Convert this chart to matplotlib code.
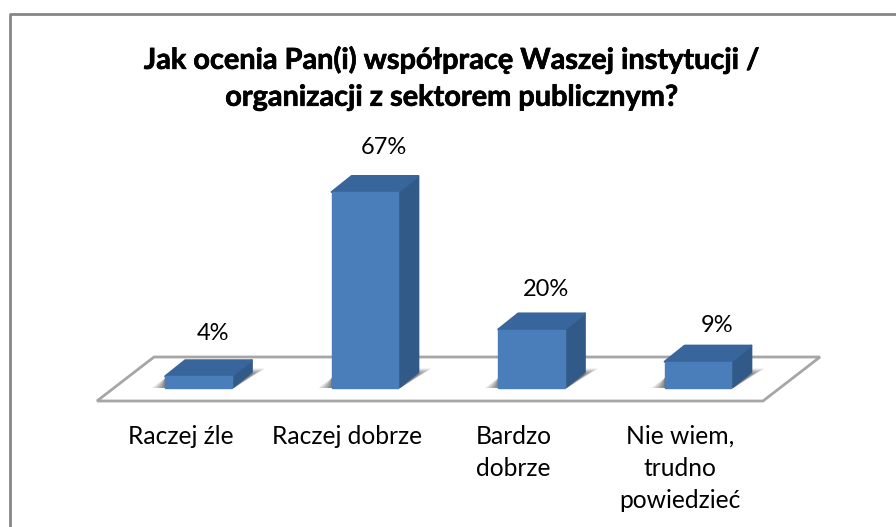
import matplotlib
matplotlib.use("Agg")
from matplotlib import pyplot as plt
from matplotlib.patches import Polygon
import matplotlib.patheffects as pe

title = "Jak ocenia Pan(i) współpracę Waszej instytucji /\norganizacji z sektorem publicznym?"
categories = ["Raczej źle", "Raczej dobrze", "Bardzo\ndobrze", "Nie wiem,\ntrudno\npowiedzieć"]
values = [4, 67, 20, 9]

W, H = 896, 527
px_x = 166.5   # pixels per category
px_y = 2.925   # pixels per percent
x0 = 198.5     # pixel of first category
y0 = 388       # pixel of zero line
bar_w = 0.40
dx = 20 / px_x
dy = 16 / px_y

plt.rcParams['font.family'] = ['Lato', 'DejaVu Sans']
fig = plt.figure(figsize=(W / 100, H / 100), dpi=100, facecolor="white")
ax = fig.add_axes([0, 0, 1, 1])
ax.set_xlim(-x0 / px_x, (W - x0) / px_x)
ax.set_ylim((y0 - H) / px_y, y0 / px_y)
ax.axis("off")

def px(x, y):
    return (x - x0) / px_x, (y0 - y) / px_y

# outer frame, only left and top are inside the picture
frame = [px(10, 527), px(10, 14), px(896, 14)]
ax.plot(*zip(*frame), color="#868686", lw=2, zorder=1)

# floor
floor = [px(97, 401), px(154, 357), px(820, 357), px(763, 401)]
ax.add_patch(Polygon(floor, closed=True, fc="white", ec="#a6a6a6", lw=2, zorder=2))

# label shift from bar top, in pixels
label_shift = [(14.5, 27), (18.5, 29), (14, 24), (19, 20)]

for i, v in enumerate(values):
    left = i - bar_w / 2
    right = i + bar_w / 2
    # soft shadow on the floor
    for grow, alpha in [(13, 0.16), (10, 0.18), (7, 0.22), (4, 0.28), (1, 0.34)]:
        g = grow / px_x
        h = dy * (0.85 + grow / 36)
        ax.add_patch(Polygon([(left - g, 0), (right + 2 / px_x, 0),
                              (right + dx + g, h), (left + dx, h),
                              (left, 10 / px_y)],
                             closed=True, fc="#4d4d4d", ec="none", alpha=alpha, zorder=3))
    ax.add_patch(Polygon([(right, 0), (right + dx, dy), (right + dx, v + dy), (right, v)],
                         closed=True, fc="#325a88", ec="#325a88", lw=1.5, joinstyle="round", zorder=4))
    ax.add_patch(Polygon([(left, v), (left + dx, v + dy), (right + dx, v + dy), (right, v)],
                         closed=True, fc="#38659b", ec="#38659b", lw=1.5, joinstyle="round", zorder=4))
    ax.bar(i, v, width=bar_w, color="#4a7ebb", edgecolor="#4a7ebb", lw=1, zorder=5)
    sx, sy = label_shift[i]
    ax.text(i + sx / px_x, v + dy + sy / px_y, f"{v}%", ha="center", va="center",
            fontsize=17, color="black", zorder=6)

# category labels
for i, c in enumerate(categories):
    ax.text(i - 18 / px_x, (y0 - 425) / px_y, c, ha="center", va="top",
            fontsize=17.7, color="black", linespacing=1.48, zorder=6)

tx, ty = px(452, 78.5)
ax.text(tx, ty, title, ha="center", va="center", fontsize=20.8, fontweight="bold",
        color="black", linespacing=1.52, zorder=6,
        path_effects=[pe.withStroke(linewidth=0.5, foreground="black")])

fig.savefig("out.png", dpi=100)
